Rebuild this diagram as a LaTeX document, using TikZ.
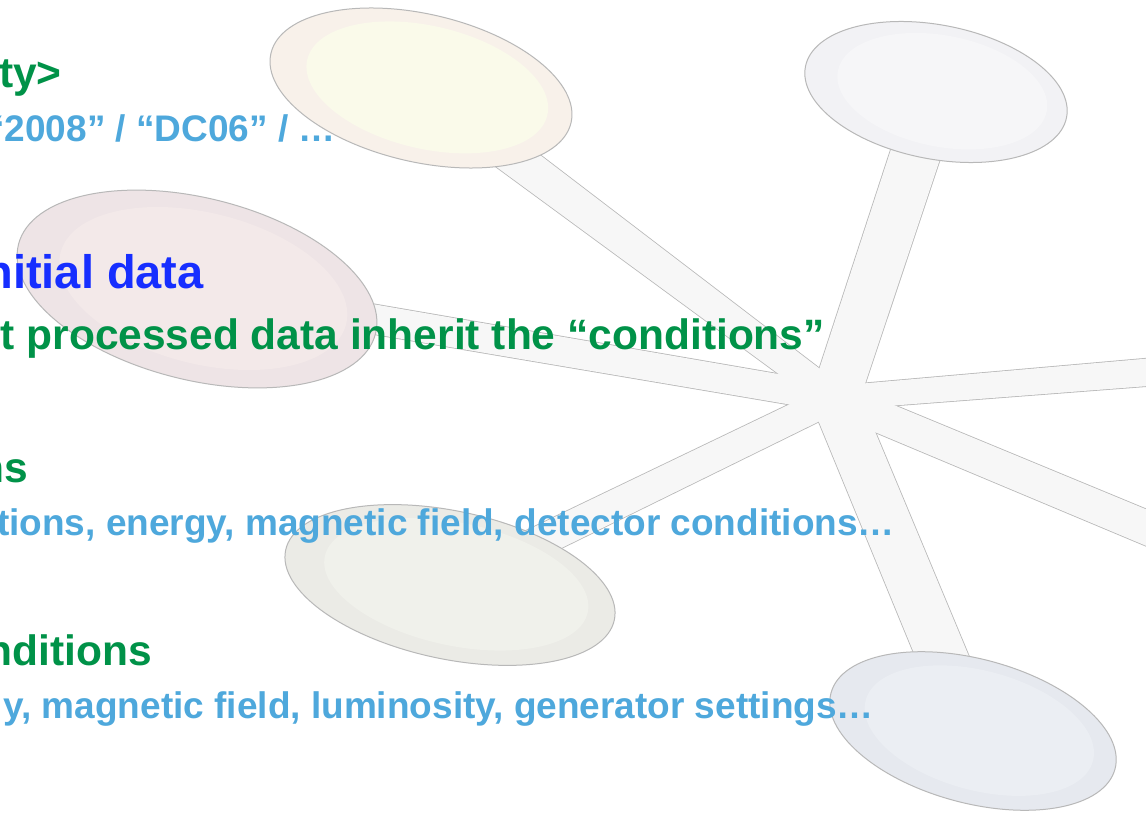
\documentclass[tikz,border=0pt]{standalone}
\usepackage{fontspec}
\setmainfont{Liberation Sans}
\usepackage{tikz}
\usetikzlibrary{calc}
\definecolor{condgreen}{RGB}{0,146,72}
\definecolor{condblue}{RGB}{78,168,220}
\definecolor{datablue}{RGB}{22,46,255}
\definecolor{spokefill}{RGB}{247,247,247}
\definecolor{spokeline}{RGB}{184,184,184}
\definecolor{tlout}{RGB}{248,241,234}
\definecolor{tlin}{RGB}{250,250,234}
\definecolor{trout}{RGB}{242,242,245}
\definecolor{trin}{RGB}{246,246,248}
\definecolor{lfout}{RGB}{238,228,230}
\definecolor{lfin}{RGB}{243,233,233}
\definecolor{blout}{RGB}{235,235,230}
\definecolor{blin}{RGB}{240,241,235}
\definecolor{brout}{RGB}{230,233,239}
\definecolor{brin}{RGB}{235,238,243}
\tikzstyle{head}=[anchor=base east, inner sep=0pt, font=\fontsize{42.5}{50}\selectfont\bfseries, text=condgreen]
\tikzstyle{detail}=[head, font=\fontsize{37}{44}\selectfont\bfseries, text=condblue]
\tikzstyle{title}=[head, font=\fontsize{47}{56}\selectfont\bfseries, text=datablue]
\tikzstyle{spokeedge}=[draw=spokeline, line width=1.6pt, line join=round]
% tapered bar from #1 to #2, half widths #3 and #4
\newcommand{\spoke}[4]{($(#1)!#3!90:(#2)$) -- ($(#2)!#4!-90:(#1)$) -- ($(#2)!#4!90:(#1)$) -- ($(#1)!#3!-90:(#2)$) -- cycle}
% pod: centre, radii, tilt, outer and inner colour
\newcommand{\pod}[6]{%
	\path[fill=#5, draw=spokeline, line width=1pt, shift={(#1)}, rotate=#4] (0,0) ellipse ({#2} and {#3});
	\path[fill=#6, shift={(#1)}, rotate=#4] (6,-2) ellipse ({0.8*#2} and {0.83*#3});}

\begin{document}
\begin{tikzpicture}[x=1pt,y=-1pt]
	\fill[white] (0,0) rectangle (1146,813);
	\useasboundingbox (0,0) rectangle (1146,813);
	
	% Star in the background
	\coordinate (hub) at (835,398);
	\coordinate (tl) at (421,88);
	\coordinate (tr) at (936,92);
	\coordinate (lf) at (197,289);
	\coordinate (bl) at (450,585);
	\coordinate (br) at (973,731);
	\coordinate (re) at (1200,368);
	\coordinate (rd) at (1200,550);
	
	\path[spokeedge] \spoke{hub}{tl}{14pt}{19pt};
	\path[spokeedge] \spoke{hub}{tr}{24pt}{25pt};
	\path[spokeedge] \spoke{hub}{lf}{14pt}{15pt};
	\path[spokeedge] \spoke{hub}{bl}{14pt}{16pt};
	\path[spokeedge] \spoke{hub}{br}{24pt}{25pt};
	\path[spokeedge] \spoke{hub}{re}{12pt}{14pt};
	\path[spokeedge] \spoke{hub}{rd}{16pt}{17pt};
	\fill[spokefill] \spoke{hub}{tl}{14pt}{19pt};
	\fill[spokefill] \spoke{hub}{tr}{24pt}{25pt};
	\fill[spokefill] \spoke{hub}{lf}{14pt}{15pt};
	\fill[spokefill] \spoke{hub}{bl}{14pt}{16pt};
	\fill[spokefill] \spoke{hub}{br}{24pt}{25pt};
	\fill[spokefill] \spoke{hub}{re}{12pt}{14pt};
	\fill[spokefill] \spoke{hub}{rd}{16pt}{17pt};
	\fill[spokefill] (hub) circle (22);
	
	\pod{tl}{154}{74}{-13}{tlout}{tlin}
	\pod{tr}{133}{67}{-11}{trout}{trin}
	\pod{lf}{184}{91}{-14}{lfout}{lfin}
	\pod{bl}{168}{74}{-12}{blout}{blin}
	\pod{br}{147}{72}{-15}{brout}{brin}
	
	% Text lines
	\node[head] (quality) at (62,88) {ty>};
	\node[detail] (tags) at (336,142) {“2008” / “DC06” / …};
	\node[title] (initial) at (204,288) {nitial data};
	\node[head] (inherit) at (825,349) {t processed data inherit the “conditions”};
	\node[head] (runcond) at (28,482) {ns};
	\node[detail] (runlist) at (895,535) {tions, energy, magnetic field, detector conditions…};
	\node[head] (simcond) at (152,665) {nditions};
	\node[detail] (simlist) at (874,718) {y, magnetic field, luminosity, generator settings…};
	
\end{tikzpicture}
\end{document}
